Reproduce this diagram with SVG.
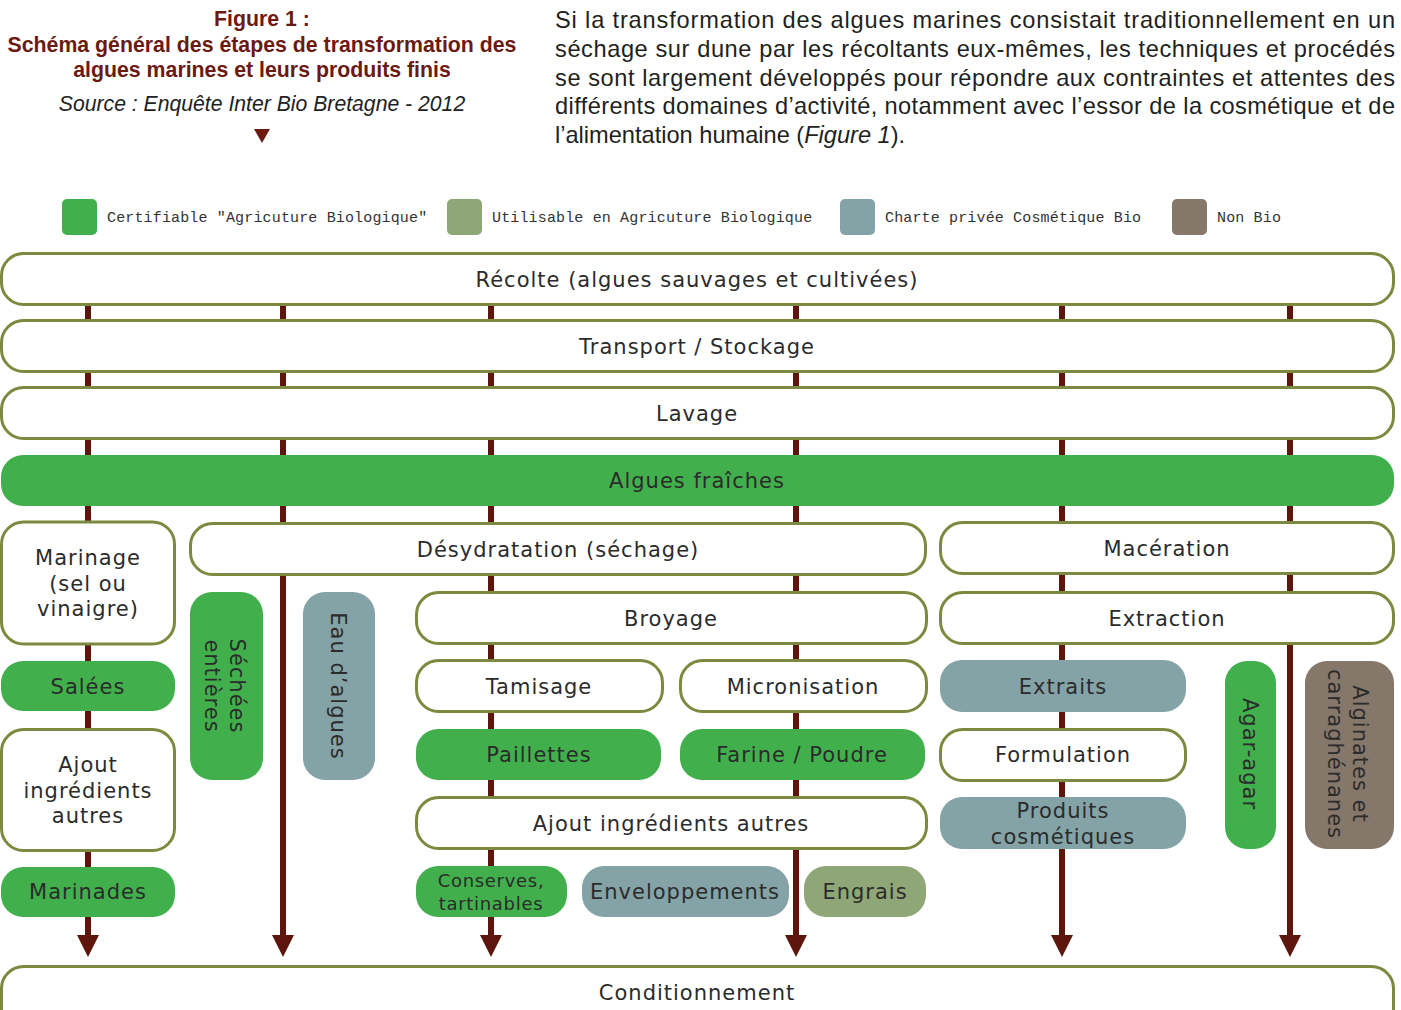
<svg xmlns="http://www.w3.org/2000/svg" width="1401" height="1010" viewBox="0 0 1401 1010">
<style>
.bx{fill:#fff;stroke:#7b8a3f;stroke-width:3}
.g{fill:#41b04c}
.b{fill:#84a3a7}
.o{fill:#8fa676}
.n{fill:#85776a}
.t{font-family:"DejaVu Sans",sans-serif;font-size:21px;letter-spacing:1px;fill:#2b2b2b;text-anchor:middle}
.ts{font-size:18px;letter-spacing:0.7px}
.lg{font-family:"Liberation Mono",monospace;font-size:15px;letter-spacing:0.15px;fill:#333}
.ttl{font-family:"Liberation Sans",sans-serif;font-weight:bold;font-size:21.3px;fill:#6b1a12;text-anchor:middle}
.src{font-family:"Liberation Sans",sans-serif;font-style:italic;font-size:21.2px;fill:#222;text-anchor:middle}
.p{font-family:"Liberation Sans",sans-serif;font-size:23.6px;fill:#231f20}
.ln{stroke:#5e150b;stroke-width:6}
.ah{fill:#5e150b}
</style>
<rect width="1401" height="1010" fill="#fff"/>
<g id="title">
<text class="ttl" x="262" y="26">Figure 1 :</text>
<text class="ttl" x="262" y="52">Schéma général des étapes de transformation des</text>
<text class="ttl" x="262" y="77">algues marines et leurs produits finis</text>
<text class="src" x="262" y="111">Source : Enquête Inter Bio Bretagne - 2012</text>
<polygon points="254,129 270,129 262,143" fill="#6b1a12"/>
</g>
<g id="paragraph">
<text class="p" x="555" y="28" textLength="840" lengthAdjust="spacing">Si la transformation des algues marines consistait traditionnellement en un</text>
<text class="p" x="555" y="57" textLength="840" lengthAdjust="spacing">séchage sur dune par les récoltants eux-mêmes, les techniques et procédés</text>
<text class="p" x="555" y="86" textLength="840" lengthAdjust="spacing">se sont largement développés pour répondre aux contraintes et attentes des</text>
<text class="p" x="555" y="114" textLength="840" lengthAdjust="spacing">différents domaines d’activité, notamment avec l’essor de la cosmétique et de</text>
<text class="p" x="555" y="143">l’alimentation humaine (<tspan font-style="italic">Figure 1</tspan>).</text>
</g>
<g id="legend">
<rect class="g" x="62" y="199" width="35" height="36" rx="5"/>
<text class="lg" x="107" y="222">Certifiable "Agricuture Biologique"</text>
<rect class="o" x="447" y="199" width="35" height="36" rx="5"/>
<text class="lg" x="492" y="222">Utilisable en Agricuture Biologique</text>
<rect class="b" x="840" y="199" width="35" height="36" rx="5"/>
<text class="lg" x="885" y="222">Charte privée Cosmétique Bio</text>
<rect class="n" x="1172" y="199" width="35" height="36" rx="5"/>
<text class="lg" x="1217" y="222">Non Bio</text>
</g>
<g id="connectors">
<line class="ln" x1="88" y1="300" x2="88" y2="940"/>
<line class="ln" x1="283" y1="300" x2="283" y2="940"/>
<line class="ln" x1="491" y1="300" x2="491" y2="940"/>
<line class="ln" x1="796" y1="300" x2="796" y2="940"/>
<line class="ln" x1="1062" y1="300" x2="1062" y2="940"/>
<line class="ln" x1="1290" y1="300" x2="1290" y2="940"/>
<polygon class="ah" points="77,935 99,935 88,957"/>
<polygon class="ah" points="272,935 294,935 283,957"/>
<polygon class="ah" points="480,935 502,935 491,957"/>
<polygon class="ah" points="785,935 807,935 796,957"/>
<polygon class="ah" points="1051,935 1073,935 1062,957"/>
<polygon class="ah" points="1279,935 1301,935 1290,957"/>
</g>
<g id="recolte"><rect class="bx" x="1.5" y="253.5" width="1392" height="51" rx="22"/><text class="t" x="697" y="287">Récolte (algues sauvages et cultivées)</text></g>
<g id="transport"><rect class="bx" x="1.5" y="320.5" width="1392" height="51" rx="22"/><text class="t" x="697" y="354">Transport / Stockage</text></g>
<g id="lavage"><rect class="bx" x="1.5" y="387.5" width="1392" height="51" rx="22"/><text class="t" x="697" y="421">Lavage</text></g>
<g id="fraiches"><rect class="g" x="1" y="455" width="1393" height="51" rx="22"/><text class="t" x="697" y="488">Algues fraîches</text></g>
<g id="marinage"><rect class="bx" x="1.5" y="522" width="173" height="122" rx="22"/><text class="t" x="88" y="565">Marinage</text><text class="t" x="88" y="591">(sel ou</text><text class="t" x="88" y="616">vinaigre)</text></g>
<g id="deshydratation"><rect class="bx" x="190.5" y="523.5" width="735" height="51" rx="22"/><text class="t" x="558" y="557">Désydratation (séchage)</text></g>
<g id="maceration"><rect class="bx" x="940.5" y="522.5" width="453" height="51" rx="22"/><text class="t" x="1167" y="556">Macération</text></g>
<g id="sechees"><rect class="g" x="190" y="592" width="73" height="188" rx="22"/><text class="t" transform="translate(230,686) rotate(90)">Séchées</text><text class="t" transform="translate(205,686) rotate(90)">entières</text></g>
<g id="eau"><rect class="b" x="303" y="592" width="72" height="188" rx="22"/><text class="t" transform="translate(331,686) rotate(90)">Eau d’algues</text></g>
<g id="broyage"><rect class="bx" x="416.5" y="592.5" width="510" height="51" rx="22"/><text class="t" x="671" y="626">Broyage</text></g>
<g id="extraction"><rect class="bx" x="940.5" y="592.5" width="453" height="51" rx="22"/><text class="t" x="1167" y="626">Extraction</text></g>
<g id="salees"><rect class="g" x="1" y="661" width="174" height="50" rx="22"/><text class="t" x="88" y="694">Salées</text></g>
<g id="tamisage"><rect class="bx" x="416.5" y="660.5" width="246" height="51" rx="22"/><text class="t" x="539" y="694">Tamisage</text></g>
<g id="micronisation"><rect class="bx" x="680.5" y="660.5" width="246" height="51" rx="22"/><text class="t" x="803" y="694">Micronisation</text></g>
<g id="extraits"><rect class="b" x="940" y="660" width="246" height="52" rx="22"/><text class="t" x="1063" y="694">Extraits</text></g>
<g id="agar"><rect class="g" x="1225" y="661" width="51" height="188" rx="22"/><text class="t" transform="translate(1243,754) rotate(90)">Agar-agar</text></g>
<g id="alginates"><rect class="n" x="1305" y="661" width="89" height="188" rx="22"/><text class="t" transform="translate(1353,754) rotate(90)">Alginates et</text><text class="t" transform="translate(1328,754) rotate(90)">carraghénanes</text></g>
<g id="ajout1"><rect class="bx" x="1.5" y="729.5" width="173" height="121" rx="22"/><text class="t" x="88" y="772">Ajout</text><text class="t" x="88" y="798">ingrédients</text><text class="t" x="88" y="823">autres</text></g>
<g id="paillettes"><rect class="g" x="416" y="729" width="245" height="51" rx="22"/><text class="t" x="539" y="762">Paillettes</text></g>
<g id="farine"><rect class="g" x="680" y="729" width="245" height="51" rx="22"/><text class="t" x="802" y="762">Farine / Poudre</text></g>
<g id="formulation"><rect class="bx" x="940.5" y="729.5" width="245" height="51" rx="22"/><text class="t" x="1063" y="762">Formulation</text></g>
<g id="ajout2"><rect class="bx" x="416.5" y="797.5" width="510" height="51" rx="22"/><text class="t" x="671" y="831">Ajout ingrédients autres</text></g>
<g id="produits"><rect class="b" x="940" y="797" width="246" height="52" rx="22"/><text class="t" x="1063" y="818">Produits</text><text class="t" x="1063" y="844">cosmétiques</text></g>
<g id="marinades"><rect class="g" x="1" y="867" width="174" height="50" rx="22"/><text class="t" x="88" y="899">Marinades</text></g>
<g id="conserves"><rect class="g" x="416" y="866" width="151" height="51" rx="22"/><text class="t ts" x="491" y="887">Conserves,</text><text class="t ts" x="491" y="910">tartinables</text></g>
<g id="enveloppements"><rect class="b" x="582" y="866" width="207" height="51" rx="22"/><text class="t" x="685" y="899">Enveloppements</text></g>
<g id="engrais"><rect class="o" x="804" y="866" width="122" height="51" rx="22"/><text class="t" x="865" y="899">Engrais</text></g>
<g id="conditionnement"><rect class="bx" x="1.5" y="966.5" width="1392" height="70" rx="22"/><text class="t" x="697" y="1000">Conditionnement</text></g>
</svg>
